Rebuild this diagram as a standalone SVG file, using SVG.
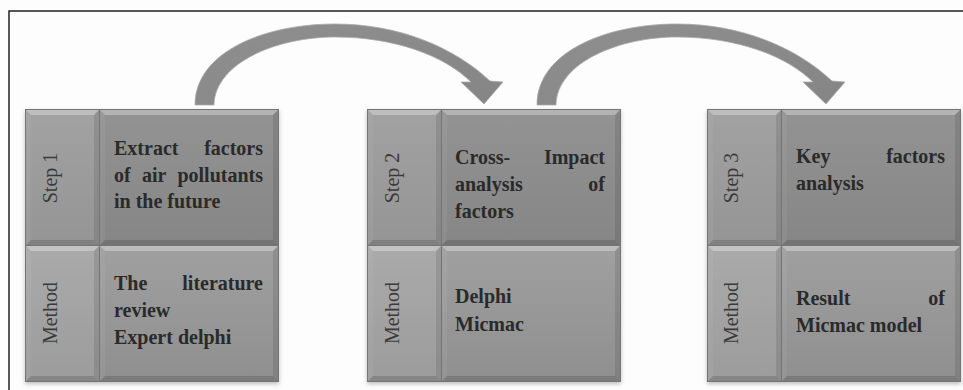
<svg xmlns="http://www.w3.org/2000/svg" width="963" height="390" viewBox="0 0 963 390">
  <style>
    .txt { font-family: "Liberation Serif", "Times New Roman", serif; font-weight: bold; font-size: 20px; fill: #2a2a2a; }
    .end { text-anchor: end; }
    .lab { font-family: "Liberation Serif", "Times New Roman", serif; font-size: 20px; fill: #3a3a3a; text-anchor: middle; }
    .frame { fill: none; stroke: #222; stroke-width: 1.5; }
    .back { fill: #747474; filter: url(#shadow); }
    .c1 { fill: url(#gStep); }
    .c2 { fill: url(#gMain); }
    .c3 { fill: url(#gMStep); }
    .c4 { fill: url(#gMMain); }
    .bt { fill: #ffffff; opacity: 0.3; }
    .bl { fill: #ffffff; opacity: 0.05; }
    .br { fill: #000000; opacity: 0.1; }
    .bb { fill: #000000; opacity: 0.14; }
    .arrow { fill: url(#gArrow); stroke: #a9a9a9; stroke-width: 0.8; }
  </style>
  <defs>
    <linearGradient id="gStep" x1="0" y1="0" x2="0" y2="1">
      <stop offset="0" stop-color="#a2a2a2"/>
      <stop offset="1" stop-color="#959595"/>
    </linearGradient>
    <linearGradient id="gMain" x1="0" y1="0" x2="0" y2="1">
      <stop offset="0" stop-color="#939393"/>
      <stop offset="1" stop-color="#868686"/>
    </linearGradient>
    <linearGradient id="gMStep" x1="0" y1="0" x2="0" y2="1">
      <stop offset="0" stop-color="#aaaaaa"/>
      <stop offset="1" stop-color="#9c9c9c"/>
    </linearGradient>
    <linearGradient id="gMMain" x1="0" y1="0" x2="0" y2="1">
      <stop offset="0" stop-color="#a0a0a0"/>
      <stop offset="1" stop-color="#8f8f8f"/>
    </linearGradient>
    <linearGradient id="gArrow" x1="0" y1="0" x2="1" y2="1">
      <stop offset="0" stop-color="#8f8f8f"/>
      <stop offset="1" stop-color="#858585"/>
    </linearGradient>
    <filter id="shadow" x="-5%" y="-5%" width="110%" height="115%">
      <feDropShadow dx="0" dy="2" stdDeviation="2" flood-color="#000" flood-opacity="0.25"/>
    </filter>
    <!-- bevel edges of the four cells of one block (block at x = 26) -->
    <g id="bevels">
      <polygon class="bt" points="26,110 99,110 94,115 31,115"/>
      <polygon class="bl" points="26,110 31,115 31,240 26,245"/>
      <polygon class="br" points="99,110 99,245 94,240 94,115"/>
      <polygon class="bb" points="26,245 99,245 94,240 31,240"/>
      <polygon class="bt" points="100,110 278,110 273,115 105,115"/>
      <polygon class="bl" points="100,110 105,115 105,240 100,245"/>
      <polygon class="br" points="278,110 278,245 273,240 273,115"/>
      <polygon class="bb" points="100,245 278,245 273,240 105,240"/>
      <polygon class="bt" points="26,246 99,246 94,251 31,251"/>
      <polygon class="bl" points="26,246 31,251 31,376 26,381"/>
      <polygon class="br" points="99,246 99,381 94,376 94,251"/>
      <polygon class="bb" points="26,381 99,381 94,376 31,376"/>
      <polygon class="bt" points="100,246 278,246 273,251 105,251"/>
      <polygon class="bl" points="100,246 105,251 105,376 100,381"/>
      <polygon class="br" points="278,246 278,381 273,376 273,251"/>
      <polygon class="bb" points="100,381 278,381 273,376 105,376"/>
    </g>
    <path id="curve" class="arrow" d="M195,105 C195,52 264,24 335,24 C400,24 455,48 490,81 L503,82 L484,104 L461,82 L471,82 C445,56 395,37 335,37 C278,37 215,62 214,105 Z"/>
  </defs>

  <rect width="963" height="390" fill="#fdfdfd"/>
  <path class="frame" d="M9,390 V11 H963"/>

  <!-- connectors -->
  <g id="connectors">
    <use id="arrow-1-2" href="#curve"/>
    <use id="arrow-2-3" href="#curve" x="342"/>
  </g>

  <!-- Step 1 -->
  <g id="step1">
    <rect class="back" x="25" y="109" width="254" height="273"/>
    <rect class="c1" x="26" y="110" width="73" height="135"/>
    <rect class="c2" x="100" y="110" width="178" height="135"/>
    <rect class="c3" x="26" y="246" width="73" height="135"/>
    <rect class="c4" x="100" y="246" width="178" height="135"/>
    <use href="#bevels"/>
    <text class="lab" transform="translate(57,178) rotate(-90)">Step 1</text>
    <text class="lab" transform="translate(57,313) rotate(-90)">Method</text>
    <text class="txt" x="114" y="155">Extract</text>
    <text class="txt end" x="263" y="155">factors</text>
    <text class="txt" x="114" y="182">of</text>
    <text class="txt" x="142" y="182">air</text>
    <text class="txt end" x="263" y="182">pollutants</text>
    <text class="txt" x="114" y="208">in the future</text>
    <text class="txt" x="114" y="290">The</text>
    <text class="txt end" x="263" y="290">literature</text>
    <text class="txt" x="114" y="317">review</text>
    <text class="txt" x="114" y="344">Expert delphi</text>
  </g>

  <!-- Step 2 -->
  <g id="step2">
    <rect class="back" x="367" y="109" width="254" height="273"/>
    <rect class="c1" x="368" y="110" width="73" height="135"/>
    <rect class="c2" x="442" y="110" width="178" height="135"/>
    <rect class="c3" x="368" y="246" width="73" height="135"/>
    <rect class="c4" x="442" y="246" width="178" height="135"/>
    <use href="#bevels" x="342"/>
    <text class="lab" transform="translate(399,178) rotate(-90)">Step 2</text>
    <text class="lab" transform="translate(399,313) rotate(-90)">Method</text>
    <text class="txt" x="455" y="164">Cross-</text>
    <text class="txt end" x="605" y="164">Impact</text>
    <text class="txt" x="455" y="191">analysis</text>
    <text class="txt end" x="605" y="191">of</text>
    <text class="txt" x="455" y="218">factors</text>
    <text class="txt" x="455" y="303">Delphi</text>
    <text class="txt" x="455" y="331">Micmac</text>
  </g>

  <!-- Step 3 -->
  <g id="step3">
    <rect class="back" x="707" y="109" width="254" height="273"/>
    <rect class="c1" x="708" y="110" width="73" height="135"/>
    <rect class="c2" x="782" y="110" width="178" height="135"/>
    <rect class="c3" x="708" y="246" width="73" height="135"/>
    <rect class="c4" x="782" y="246" width="178" height="135"/>
    <use href="#bevels" x="682"/>
    <text class="lab" transform="translate(738,178) rotate(-90)">Step 3</text>
    <text class="lab" transform="translate(738,313) rotate(-90)">Method</text>
    <text class="txt" x="796" y="163">Key</text>
    <text class="txt end" x="945" y="163">factors</text>
    <text class="txt" x="796" y="190">analysis</text>
    <text class="txt" x="796" y="305">Result</text>
    <text class="txt end" x="945" y="305">of</text>
    <text class="txt" x="796" y="332">Micmac model</text>
  </g>
</svg>
